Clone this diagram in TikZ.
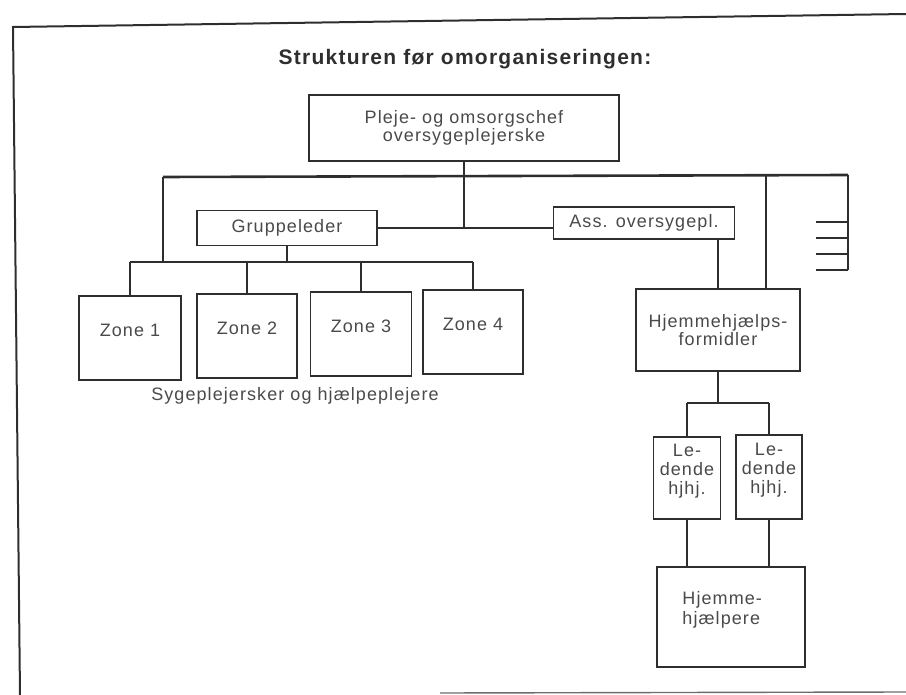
\documentclass[tikz,border=0pt]{standalone}
\usepackage{fontspec}
\setmainfont{Liberation Sans}[LetterSpace=6]
\definecolor{ink}{HTML}{2E2E2E}
\definecolor{txt}{HTML}{4A4A4A}
\newcommand{\bodyfnt}{\fontsize{18}{18}\selectfont}
\begin{document}
\begin{tikzpicture}[x=1pt,y=-1pt,
  orgbox/.style={draw=ink, line width=1.5pt, fill=white, inner sep=0pt,
                 align=center, text=txt, font=\bodyfnt},
  conn/.style={draw=ink, line width=1.8pt},
  heavy/.style={draw=ink, line width=2.6pt},
  zonetext/.style={text=txt, font=\bodyfnt},
  stacktext/.style={text=txt, font=\bodyfnt, align=center, inner sep=0pt,
                    execute at begin node={\baselineskip=19pt}}]
\useasboundingbox (0,0) rectangle (906,695);

% sheet frame
\coordinate (fa) at (13,27);
\coordinate (fb) at (906,14);
\coordinate (fc) at (20,695);
\coordinate (fd) at (440,693);
\coordinate (fe) at (906,692);
\draw[ink, line width=2pt] (fc) -- (fa) -- (fb);
\draw[ink!70, line width=1.4pt] (fd) -- (fe);

% title
\node (title) at (465,59) {\fontsize{21}{21}\selectfont\bfseries\color{ink}Strukturen før omorganiseringen:};

% boxes
\node[orgbox, minimum width=310pt, minimum height=66pt] (chef) at (464,128)
  {Pleje- og omsorgschef\\oversygeplejerske};
\node[orgbox, minimum width=180pt, minimum height=35pt] (grp) at (287,228) {Gruppeleder};
\node[orgbox, minimum width=181pt, minimum height=32pt] (ass) at (644,223) {Ass. oversygepl.};

\node[orgbox, minimum width=102pt, minimum height=84pt,
      label={[zonetext, yshift=8pt, name=z1t]center:Zone 1}] (zone1) at (130,338) {};
\node[orgbox, minimum width=100pt, minimum height=84pt,
      label={[zonetext, yshift=8pt, name=z2t]center:Zone 2}] (zone2) at (247,336) {};
\node[orgbox, minimum width=101pt, minimum height=84pt,
      label={[zonetext, yshift=8pt, name=z3t]center:Zone 3}] (zone3) at (361,334) {};
\node[orgbox, minimum width=100pt, minimum height=84pt,
      label={[zonetext, yshift=8pt, name=z4t]center:Zone 4}] (zone4) at (473,332) {};
\node[zonetext] (staff) at (295,396) {Sygeplejersker og hjælpeplejere};

\node[orgbox, minimum width=164pt, minimum height=82pt] (hjf) at (718,330)
  {Hjemmehjælps-\\formidler};
\node[orgbox, minimum width=67pt, minimum height=82pt,
      label={[stacktext, yshift=7pt, name=l1t]center:Le-\\dende\\hjhj.}] (led1) at (687,478) {};
\node[orgbox, minimum width=66pt, minimum height=84pt,
      label={[stacktext, yshift=7pt, name=l2t]center:Le-\\dende\\hjhj.}] (led2) at (769,477) {};
\node[orgbox, minimum width=148pt, minimum height=100pt,
      label={[stacktext, align=left, anchor=west, xshift=26pt, yshift=7pt,
              execute at begin node={\baselineskip=20pt}, name=hpt]west:Hjemme-\\hjælpere}] (hjp) at (731,617) {};

% top bus line and the joints on it
\coordinate (bl) at (163,177);
\coordinate (br) at (848,175);
\coordinate (bx) at (766,176);
\coordinate (j1) at (464,228);
\coordinate (zb) at (0,262);
\coordinate (lb) at (0,403);

\draw[heavy] (bl) -- (br);
\draw[conn] (chef.south) -- (j1);
\draw[heavy] (grp.east) -- (grp.east -| ass.west);

% bracket with four short ticks at the right
\coordinate (rb) at (848,270);
\draw[conn] (br) -- (rb);
\foreach \ty in {222,238,254,270}
  \draw[heavy] (816,\ty) -- (848,\ty);

% left branch down to the zones
\draw[heavy] (bl) -- (bl |- zb);
\draw[heavy] (zone1.north |- zb) -- (zone4.north |- zb);
\draw[conn] (grp.south) -- (grp.south |- zb);
\foreach \z in {zone1,zone2,zone3,zone4}
  \draw[conn] (\z.north |- zb) -- (\z.north);

% right branch down to home help
\draw[heavy] (bx) -- (bx |- hjf.north);
\draw[conn] (ass.south -| hjf.north) -- (hjf.north);
\draw[conn] (hjf.south) -- (hjf.south |- lb);
\draw[conn] (led1.north |- lb) -- (led2.north |- lb);
\draw[conn] (led1.north |- lb) -- (led1.north);
\draw[conn] (led2.north |- lb) -- (led2.north);
\draw[conn] (led1.south) -- (led1.south |- hjp.north);
\draw[heavy] (led2.south) -- (led2.south |- hjp.north);
\end{tikzpicture}
\end{document}
